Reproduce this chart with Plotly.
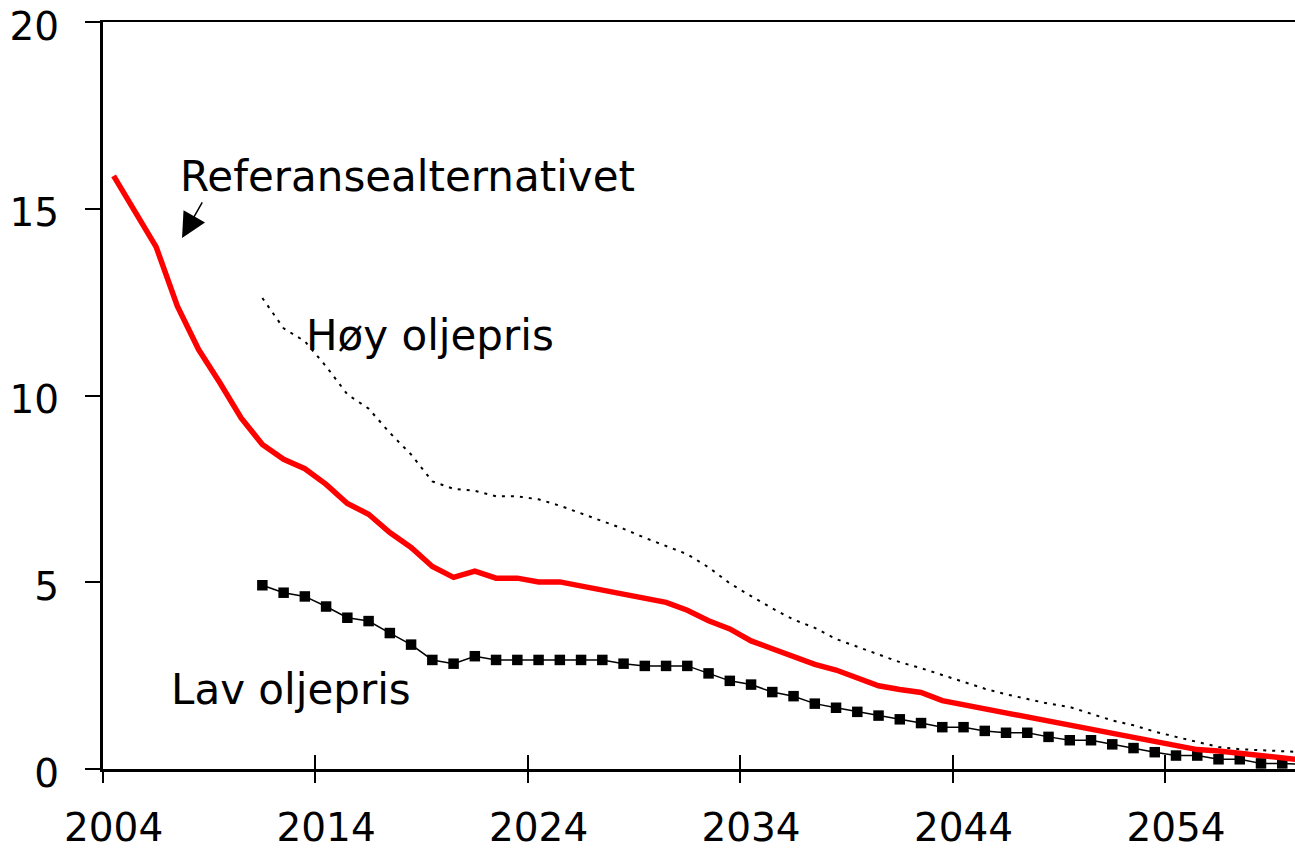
import plotly.graph_objects as go

# ---- data -------------------------------------------------------------
years_ref = list(range(2004, 2061))
referanse = [15.88, 14.93, 13.98, 12.39, 11.23, 10.34, 9.40, 8.69, 8.29, 8.04,
             7.62, 7.11, 6.82, 6.33, 5.93, 5.42, 5.13, 5.30, 5.11, 5.11,
             5.01, 5.01, 4.90, 4.79, 4.68, 4.55, 4.46, 4.25, 3.97, 3.75,
             3.43, 3.22, 3.01, 2.80, 2.65, 2.44, 2.23, 2.13, 2.05, 1.83,
             1.72, 1.62, 1.51, 1.40, 1.30, 1.18, 1.05, 0.95, 0.84, 0.73,
             0.63, 0.52, 0.48, 0.42, 0.38, 0.32, 0.24]

years_alt = list(range(2011, 2061))
hoy_oljepris = [12.61, 11.80, 11.45, 10.78, 10.03, 9.65, 9.00, 8.42, 7.70, 7.50,
                7.45, 7.30, 7.30, 7.22, 7.05, 6.85, 6.64, 6.43, 6.19, 5.97,
                5.75, 5.40, 4.97, 4.63, 4.30, 4.00, 3.78, 3.48, 3.27, 3.07,
                2.86, 2.70, 2.51, 2.34, 2.15, 2.00, 1.88, 1.75, 1.66, 1.48,
                1.30, 1.17, 1.00, 0.86, 0.72, 0.59, 0.53, 0.51, 0.48, 0.45]
lav_oljepris = [4.92, 4.72, 4.62, 4.35, 4.05, 3.96, 3.64, 3.33, 2.92, 2.82,
                3.02, 2.92, 2.92, 2.92, 2.92, 2.92, 2.92, 2.82, 2.76, 2.76,
                2.76, 2.56, 2.36, 2.26, 2.06, 1.95, 1.75, 1.64, 1.53, 1.43,
                1.33, 1.23, 1.12, 1.12, 1.02, 0.97, 0.97, 0.86, 0.77, 0.77,
                0.66, 0.56, 0.45, 0.36, 0.36, 0.26, 0.26, 0.15, 0.15, 0.12]

label_years = [2004, 2014, 2024, 2034, 2044, 2054]
tick_labels = ["2004", "2014", "2024", "2034", "2044", "2054"]
y_ticks = [0, 5, 10, 15, 20]

# ---- figure -----------------------------------------------------------
FONT = "DejaVu Sans, Verdana, sans-serif"
x_range = [2003.5, 2059.6]
boundaries = [y - 0.5 for y in label_years]

fig = go.Figure()

fig.add_trace(go.Scatter(
    x=years_alt, y=hoy_oljepris, mode="lines",
    line=dict(color="black", width=2, dash="3px,6px"),
    showlegend=False, hoverinfo="skip"))

fig.add_trace(go.Scatter(
    x=years_alt, y=lav_oljepris, mode="lines+markers",
    line=dict(color="black", width=1.5),
    marker=dict(symbol="square", size=10.5, color="black"),
    showlegend=False, hoverinfo="skip"))

fig.add_trace(go.Scatter(
    x=years_ref, y=referanse, mode="lines",
    line=dict(color="#ff0000", width=5.5),
    showlegend=False, hoverinfo="skip"))

# helper (empty) traces so the overlaying tick axes get drawn
fig.add_trace(go.Scatter(x=[], y=[], xaxis="x2", showlegend=False, hoverinfo="skip"))
fig.add_trace(go.Scatter(x=[], y=[], xaxis="x3", showlegend=False, hoverinfo="skip"))

fig.update_layout(
    width=1295, height=850,
    margin=dict(l=103, r=0, t=22, b=81),
    paper_bgcolor="white", plot_bgcolor="white",
    font=dict(family=FONT, size=38, color="black"),
    xaxis=dict(
        range=x_range, tickmode="array", tickvals=label_years, ticktext=tick_labels,
        ticks="", showgrid=False, zeroline=False, automargin=False,
        showline=True, linecolor="black", linewidth=3,
        tickfont=dict(family=FONT, size=39, color="black"),
        ticklabelstandoff=22),
    xaxis2=dict(
        overlaying="x", matches="x", anchor="y", range=x_range, automargin=False,
        tickmode="array", tickvals=boundaries, ticks="outside", ticklen=13,
        tickwidth=1.5, tickcolor="black", showticklabels=False,
        showgrid=False, zeroline=False, showline=False),
    xaxis3=dict(
        overlaying="x", matches="x", anchor="y", range=x_range, automargin=False,
        tickmode="array", tickvals=boundaries, ticks="inside", ticklen=14,
        tickwidth=1.5, tickcolor="black", showticklabels=False,
        showgrid=False, zeroline=False,
        showline=True, mirror=True, linecolor="black", linewidth=2),
    yaxis=dict(
        range=[0, 20], tickmode="array", tickvals=y_ticks, automargin=False,
        ticklabeloverflow="allow", ticklabelshift=4,
        ticks="outside", ticklen=15, tickwidth=1.5, tickcolor="black",
        showgrid=False, zeroline=False,
        showline=True, linecolor="black", linewidth=3,
        tickfont=dict(family=FONT, size=39, color="black"),
        ticklabelstandoff=18),
    annotations=[
        dict(x=2007.03, y=15.86, xref="x", yref="y", text="Referansealternativet",
             showarrow=False, xanchor="left", yanchor="middle",
             font=dict(family=FONT, size=42, color="black")),
        dict(x=2012.95, y=11.6, xref="x", yref="y", text="Høy oljepris",
             showarrow=False, xanchor="left", yanchor="middle",
             font=dict(family=FONT, size=42, color="black")),
        dict(x=2006.6, y=2.14, xref="x", yref="y", text="Lav oljepris",
             showarrow=False, xanchor="left", yanchor="middle",
             font=dict(family=FONT, size=42, color="black")),
        dict(x=2007.22, y=14.22, xref="x", yref="y", ax=2008.21, ay=15.21,
             axref="x", ayref="y", text="", showarrow=True,
             arrowhead=2, arrowsize=3.3, arrowwidth=1.5, arrowcolor="black"),
    ],
)

# remove the browser's default 8px body margin so the figure fills the window
fig.write_html(
    "out.html",
    config={"displayModeBar": False},
    post_script="document.body.style.margin='0';document.body.style.overflow='hidden';",
)
